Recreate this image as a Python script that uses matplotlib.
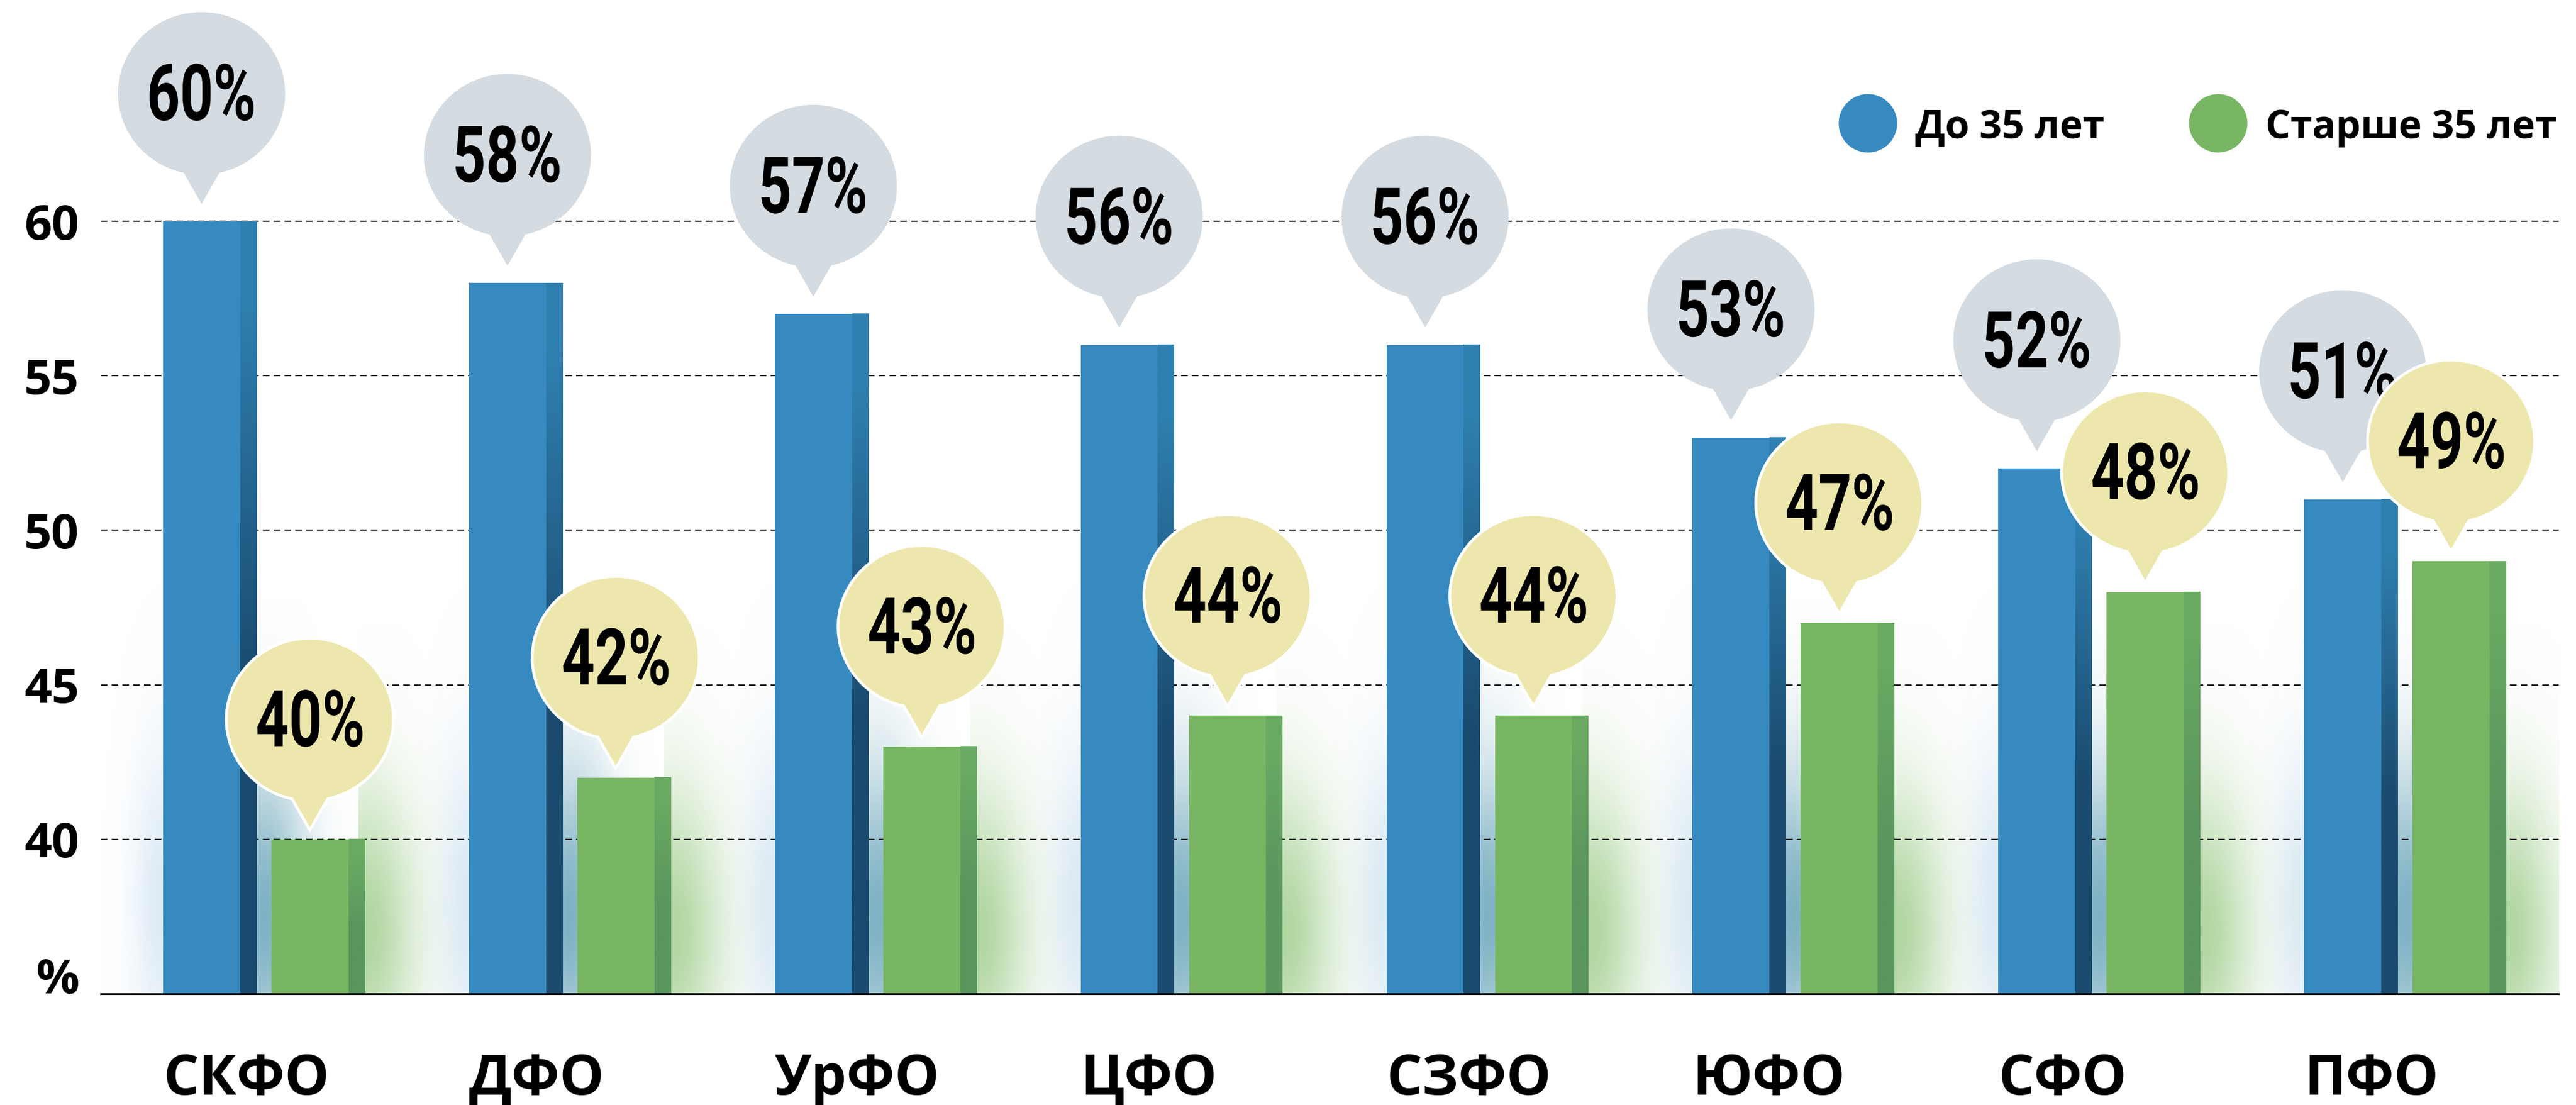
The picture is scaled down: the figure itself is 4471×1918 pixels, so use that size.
import numpy as np
import matplotlib.pyplot as plt
from matplotlib.patches import Polygon, PathPatch, Ellipse
from matplotlib.textpath import TextPath
from matplotlib.font_manager import FontProperties
from matplotlib.transforms import Affine2D, ScaledTranslation
from matplotlib.colors import to_rgb

# data
regions = ['СКФО', 'ДФО', 'УрФО', 'ЦФО', 'СЗФО', 'ЮФО', 'СФО', 'ПФО']
under_35 = [60, 58, 57, 56, 56, 53, 52, 51]
over_35 = [40, 42, 43, 44, 44, 47, 48, 49]
y_ticks = [40, 45, 50, 55, 60]
legend_labels = ['До 35 лет', 'Старше 35 лет']

# colours
BLUE = '#378ac0'
BLUE_SIDE = ('#2f80b0', '#1a4a6e')
GREEN = '#78b664'
GREEN_SIDE = ('#6aaa62', '#5a955e')
GREY_BUBBLE = '#d4dbe1'
YELLOW_BUBBLE = '#ede7ad'

plt.rcParams['font.family'] = ['Open Sans', 'DejaVu Sans']

W, H, DPI = 4471, 1918, 100
fig = plt.figure(figsize=(W / DPI, H / DPI), dpi=DPI, facecolor='white')
ax = fig.add_axes([175 / W, 1 - 1725 / H, (4441 - 175) / W, 1725 / H])
Y0 = 35

bar_w = 0.305
side_w = 0.053
green_off = 0.354
x = np.arange(len(regions))


def glow(xc, yc, sx, sy, color, peak, x0, x1):
    xs = np.linspace(x0, x1, 120)
    ys = np.linspace(Y0, yc + 3 * sy, 160)
    X, Y = np.meshgrid(xs, ys)
    A = peak * np.exp(-0.5 * ((X - xc) / sx) ** 2) * np.exp(-0.5 * ((Y - yc) / sy) ** 2)
    img = np.zeros(X.shape + (4,))
    img[..., :3] = to_rgb(color)
    img[..., 3] = A
    ax.imshow(img, extent=(x0, x1, Y0, ys[-1]), origin='lower', aspect='auto',
              interpolation='bilinear', zorder=0.3)


def side_strip(x0, top, colors):
    t = np.linspace(0, 1, 200)
    f = 1 - t  # fraction from top
    w = np.clip((f - 0.1) / 0.5, 0, 1)[:, None]
    c = np.array(to_rgb(colors[0])) * (1 - w) + np.array(to_rgb(colors[1])) * w
    ax.imshow(c[:, None, :], extent=(x0, x0 + side_w, Y0, top), origin='lower',
              aspect='auto', interpolation='bilinear', zorder=2.1)


def bubble(xc, val, gap, color, z, edge=None):
    a, b, tip_dy, half_base = 145, 141, 192, 31
    cy = gap + tip_dy
    t0 = np.arcsin(half_base / a)
    ang = np.linspace(-np.pi / 2 + t0, 3 * np.pi / 2 - t0, 240)
    verts = np.column_stack([a * np.cos(ang), cy + b * np.sin(ang)])
    verts = np.vstack([[0, gap], verts])
    tr = Affine2D() + ScaledTranslation(xc, val, ax.transData)
    ax.add_patch(Polygon(verts, closed=True, transform=tr, fc=color,
                         ec=edge if edge else 'none', lw=3.5 if edge else 0,
                         zorder=z, clip_on=False))
    return cy


num_font = FontProperties(family='Roboto', weight='bold')


def pct_text(s, xc, val, dy, z):
    tp = TextPath((0, 0), s, size=136, prop=num_font)
    ext = tp.get_extents()
    cx, cy = (ext.x0 + ext.x1) / 2, (ext.y0 + ext.y1) / 2
    tr = (Affine2D().translate(-cx, -cy).scale(0.74, 1).translate(0, dy)
          + ScaledTranslation(xc, val, ax.transData))
    ax.add_patch(PathPatch(tp, transform=tr, fc='black', ec='none', zorder=z, clip_on=False))


# soft glows behind the bars
for i in x:
    glow(i, 38, 0.07, 3.5, '#8dbbe0', 0.3, i - 0.25, i)
    glow(i + bar_w + (green_off - bar_w) / 2, 37.5, 0.10, 3.4, '#5f9fb5', 0.8,
         i + bar_w - 0.02, i + green_off + bar_w)
    gx = i + green_off + bar_w
    glow(gx, 37, 0.12, 3.3, '#7cbc62', 0.6, gx - 0.02, gx + 0.42)

# bars
ax.bar(x, under_35, width=bar_w - side_w, align='edge', color=BLUE, zorder=2)
ax.bar(x + green_off, over_35, width=bar_w - side_w, align='edge', color=GREEN, zorder=2)
for i in x:
    side_strip(i + bar_w - side_w, under_35[i], BLUE_SIDE)
    side_strip(i + green_off + bar_w - side_w, over_35[i], GREEN_SIDE)

# bubbles with values
face_c = (bar_w - side_w) / 2
for i in x:
    zb = 3 + 2 * i
    cy = bubble(i + face_c, under_35[i], 30, GREY_BUBBLE, zb)
    pct_text(f'{under_35[i]}%', i + face_c, under_35[i], cy + 2, zb + 0.5)
    cy = bubble(i + green_off + face_c, over_35[i], 16, YELLOW_BUBBLE, zb + 1, edge='white')
    pct_text(f'{over_35[i]}%', i + green_off + face_c, over_35[i], cy + 2, zb + 1.5)

# axes styling
ax.set_xlim(-0.2034, 7.832)
ax.set_ylim(Y0, 67.16)
for s in ['top', 'right', 'left']:
    ax.spines[s].set_visible(False)
ax.spines['bottom'].set_linewidth(2.2)
ax.spines['bottom'].set_color('black')
ax.spines['bottom'].set_zorder(2.5)

ax.set_yticks(y_ticks, labels=[str(v) for v in y_ticks])
ax.tick_params(axis='y', length=0, pad=27, labelsize=60)
plt.setp(ax.get_yticklabels(), fontweight='bold')
ax.yaxis.grid(True, linestyle=(0, (5.5, 3.5)), color='black', lw=1.5)
ax.set_axisbelow(True)
ax.annotate('%', xy=(0, Y0), xycoords=('axes fraction', 'data'), xytext=(-27, 1),
            textcoords='offset points', ha='right', va='baseline',
            fontsize=60, fontweight='bold')

ax.set_xticks(x, labels=regions)
ax.tick_params(axis='x', length=0, pad=73, labelsize=70)
plt.setp(ax.get_xticklabels(), fontweight='bold', ha='left')

# legend
for cx, lab, col in zip([3242, 3850], legend_labels, [BLUE, GREEN]):
    fig.add_artist(Ellipse((cx / W, 1 - 214 / H), 100 / W, 100 / H,
                           transform=fig.transFigure, color=col))
    fig.text((cx + 82) / W, 1 - 240 / H, lab, fontsize=49, fontweight='bold',
             va='baseline', ha='left')

fig.savefig('out.png', dpi=DPI, facecolor='white')
